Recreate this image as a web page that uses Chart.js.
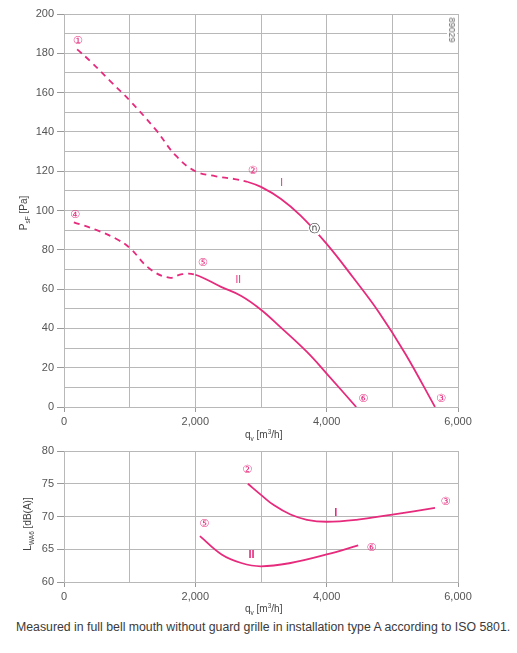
<!DOCTYPE html>
<html>
<head>
<meta charset="utf-8">
<script src="https://cdn.jsdelivr.net/npm/chart.js@4.4.1/dist/chart.umd.min.js"></script>
<style>
  body { margin: 0; background: #fff; width: 517px; height: 653px; position: relative; overflow: hidden; font-family: "Liberation Sans", Arial, sans-serif; }
  canvas { position: absolute; left: 0; }
  #top { top: 0; }
  #bottom { top: 440px; }
  .title { position: absolute; white-space: nowrap; font-size: 10px; color: #444; line-height: 12px; }
  .ytitle { transform: translate(-50%, -50%) rotate(-90deg); }
  .title sub, .title sup { font-size: 6.5px; line-height: 0; }
  #code { position: absolute; left: 452px; top: 30px; transform: translate(-50%, -50%) rotate(90deg); font-size: 9px; color: #666; background: #fff; padding: 0 2px; }
  #caption { position: absolute; left: 16px; top: 620px; font-size: 12.3px; line-height: 15px; color: #3a3a3a; white-space: nowrap; }
</style>
</head>
<body>
<canvas id="top" width="517" height="440"></canvas>
<canvas id="bottom" width="517" height="170"></canvas>
<div class="title ytitle" style="left:24px;top:213px">P<sub>sF</sub> [Pa]</div>
<div class="title" style="left:245px;top:429px">q<sub>v</sub> [m<sup>3</sup>/h]</div>
<div class="title ytitle" style="left:28px;top:524px">L<sub>WA6</sub> [dB(A)]</div>
<div class="title" style="left:245px;top:603px">q<sub>v</sub> [m<sup>3</sup>/h]</div>
<div id="code">89029</div>
<div id="caption">Measured in full bell mouth without guard grille in installation type A according to ISO 5801.</div>
<script>
// pressure curves (q in m3/h, psf in Pa)
const qPressI = [200, 400, 700, 1000, 1400, 1700, 2000, 2300, 2600, 2800, 3000, 3300, 3600, 4000, 4400, 4800, 5200, 5650]
const psfI = [182, 176, 166, 156, 141, 128, 120, 117.5, 116, 114.5, 112, 106, 97.5, 83, 66, 48, 27, 0]
const dashEndI = 2800

const qPressII = [150, 500, 800, 1000, 1300, 1600, 1800, 2000, 2400, 2700, 3000, 3300, 3700, 4000, 4450]
const psfII = [94, 90, 85.5, 81, 70.5, 65.8, 67.6, 67.3, 61, 56.5, 49.5, 40.5, 28, 17, 0]
const dashEndII = 2000

// noise curves (LWA6 in dB(A))
const qNoiseI = [2800, 3000, 3200, 3450, 3700, 4000, 4450, 5000, 5650]
const lwaI = [75, 73.3, 71.7, 70.3, 69.5, 69.2, 69.5, 70.3, 71.3]

const qNoiseII = [2070, 2400, 2700, 3000, 3450, 4000, 4480]
const lwaII = [67, 64.2, 62.9, 62.4, 62.9, 64.2, 65.6]

// curve markers [text, q, value]
const pressNotes = [
  ['①', 208, 186.3], ['②', 2872, 120.1], ['③', 5740, 3.8],
  ['④', 167, 97.6], ['⑤', 2110, 73.3], ['⑥', 4556, 3.8],
  ['I', 3313, 113.7], ['II', 2653, 64.5]
]
const noiseNotes = [
  ['②', 2790, 77.1], ['③', 5808, 72.2], ['⑤', 2136, 68.8],
  ['⑥', 4683, 65.1], ['I', 4140, 70.6], ['II', 2856, 64.2]
]
const nominalPoint = [3820, 90.3]

const pink = '#e62a7c'
const gridColor = '#b8b8b8'

const toPoints = (xs, ys) => xs.map((x, i) => ({ x, y: ys[i] }))

function curve (xs, ys, dashEnd) {
  return {
    data: toPoints(xs, ys),
    borderColor: pink,
    borderWidth: 1.8,
    pointRadius: 0,
    fill: false,
    tension: 0.4,
    segment: {
      borderDash: ctx => (dashEnd && ctx.p1.parsed.x <= dashEnd) ? [6, 5] : undefined
    }
  }
}

const notesPlugin = {
  id: 'notes',
  afterDatasetsDraw (chart, args, opts) {
    const { ctx, scales: { x, y } } = chart
    ctx.save()
    ctx.textAlign = 'center'
    ctx.textBaseline = 'middle'
    if (opts.nominal) {
      const px = x.getPixelForValue(opts.nominal[0])
      const py = y.getPixelForValue(opts.nominal[1])
      ctx.fillStyle = '#fff'
      ctx.beginPath()
      ctx.arc(px, py, 6.5, 0, Math.PI * 2)
      ctx.fill()
      ctx.fillStyle = '#222'
      ctx.font = '11px "DejaVu Sans"'
      ctx.fillText('ⓝ', px, py)
    }
    opts.items.forEach(([text, q, v]) => {
      const px = x.getPixelForValue(q)
      const py = y.getPixelForValue(v)
      ctx.fillStyle = pink
      if (text === 'I' || text === 'II') {
        ctx.font = opts.boldRoman ? 'bold 11px "Liberation Sans"' : '10px "Liberation Sans"'
      } else {
        ctx.font = '11px "DejaVu Sans"'
      }
      ctx.fillText(text, px, py)
    })
    ctx.restore()
  }
}

function makeChart (id, datasets, yOpts, xHeight, padTop, notes) {
  // eslint-disable-next-line no-new
  new Chart(document.getElementById(id), {
    type: 'line',
    data: { datasets },
    plugins: [notesPlugin],
    options: {
      responsive: false,
      animation: false,
      devicePixelRatio: 1,
      layout: { padding: { top: padTop, right: 59, left: 0, bottom: 0 } },
      plugins: { legend: { display: false }, tooltip: { enabled: false }, notes },
      scales: {
        x: {
          type: 'linear',
          min: 0,
          max: 6000,
          afterFit: scale => { scale.height = xHeight },
          border: { color: gridColor },
          grid: {
            color: gridColor,
            tickLength: 5,
            tickColor: ctx => (ctx.tick && ctx.tick.value % 2000 === 0) ? '#999' : 'rgba(0,0,0,0)'
          },
          ticks: {
            stepSize: 1000,
            autoSkip: false,
            maxRotation: 0,
            padding: 3,
            color: '#555',
            font: { family: 'Liberation Sans', size: 11 },
            callback: v => v % 2000 === 0 ? v.toLocaleString('en-US') : ''
          }
        },
        y: {
          min: yOpts.min,
          max: yOpts.max,
          afterFit: scale => { scale.width = 64 },
          border: { color: gridColor },
          grid: {
            color: gridColor,
            tickLength: 7,
            tickColor: ctx => (ctx.tick && ctx.tick.value % yOpts.label === 0) ? '#999' : 'rgba(0,0,0,0)'
          },
          ticks: {
            stepSize: yOpts.step,
            autoSkip: false,
            padding: 3,
            color: '#555',
            font: { family: 'Liberation Sans', size: 11 },
            callback: v => v % yOpts.label === 0 ? String(v) : ''
          }
        }
      }
    }
  })
}

makeChart('top',
  [curve(qPressI, psfI, dashEndI), curve(qPressII, psfII, dashEndII)],
  { min: 0, max: 200, step: 10, label: 20 }, 33, 14,
  { items: pressNotes, nominal: nominalPoint, boldRoman: false })

makeChart('bottom',
  [curve(qNoiseI, lwaI), curve(qNoiseII, lwaII)],
  { min: 60, max: 80, step: 5, label: 5 }, 28, 11,
  { items: noiseNotes, boldRoman: true })
</script>
</body>
</html>
